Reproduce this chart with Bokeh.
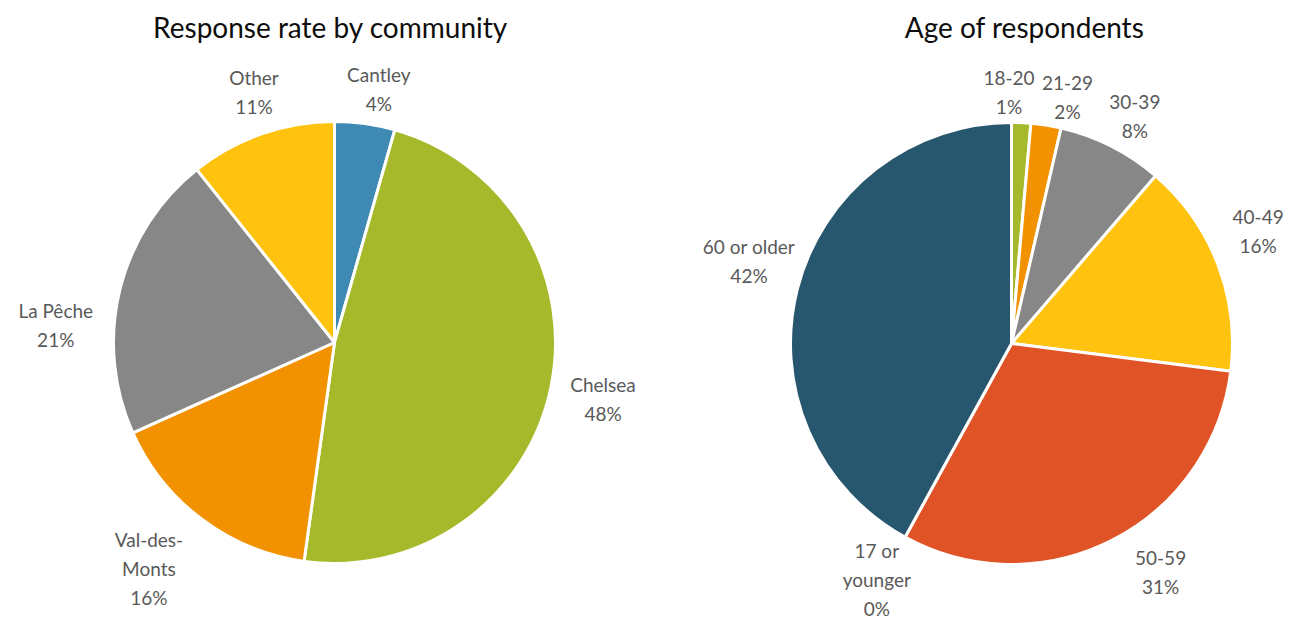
import numpy as np
from bokeh.plotting import figure
from bokeh.models import Range1d, ColumnDataSource
from bokeh.embed import file_html
from bokeh.resources import INLINE
from bokeh.core.properties import value

# ---- data ----
community_title = "Response rate by community"
community_labels = ["Cantley", "Chelsea", "Val-des-\nMonts", "La Pêche", "Other"]
community_values = [4.4, 47.8, 16.1, 21.0, 10.7]
community_colors = ["#3F8AB5", "#A6B92B", "#F39200", "#878787", "#FFC20E"]

age_title = "Age of respondents"
age_labels = ["18-20", "21-29", "30-39", "40-49", "50-59", "17 or\nyounger", "60 or older"]
age_values = [1.4, 2.2, 7.7, 15.7, 31.0, 0.0, 42.0]
age_colors = ["#A6B92B", "#F39200", "#878787", "#FFC20E", "#E05326", "#27566F", "#27566F"]

# ---- layout (label nudges in screen px: right, down) ----
community_nudges = [(8, 7), (5, 1), (-13, -4), (-12, 47), (7, 0)]
age_nudges = [(-1, 8), (2, 13), (3, 11), (1, -18), (28, -9), (2, -13), (17, -11)]

W, H = 1289, 619
FONT = "Lato"
LABEL_FS = 19
LINE_H = 28
LABEL_COLOR = "#595959"

p = figure(width=W, height=H, output_backend="svg", toolbar_location=None,
           x_range=Range1d(0, W), y_range=Range1d(0, H),
           min_border=0)
p.axis.visible = False
p.grid.visible = False
p.outline_line_color = None
p.background_fill_color = "white"
p.border_fill_color = "white"


def draw_pie(cx, cy, R, labels, values, colors, nudges, title, title_x):
    vals = np.array(values, dtype=float)
    frac = vals / vals.sum()
    cum_end = np.cumsum(frac)
    cum_start = cum_end - frac
    start = np.pi / 2 - cum_end * 2 * np.pi
    end = np.pi / 2 - cum_start * 2 * np.pi
    keep = frac > 0
    src = ColumnDataSource(dict(start=start[keep], end=end[keep],
                                color=[c for c, k in zip(colors, keep) if k]))
    p.wedge(x=cx, y=cy, radius=R, start_angle="start", end_angle="end",
            fill_color="color", line_color="white", line_width=3,
            direction="anticlock", source=src)

    # labels: placed outside end
    texts, xs, ys, ws, hs = [], [], [], [], []
    for lab, f, cs in zip(labels, frac, cum_start):
        pct = f"{round(f * 100):.0f}%"
        txt = lab + "\n" + pct
        lines = txt.split("\n")
        w = max(len(l) for l in lines) * 0.5 * LABEL_FS
        h = len(lines) * LINE_H
        b = (cs + f / 2) * 2 * np.pi
        ux, uy = np.sin(b), np.cos(b)
        d = R + 10 + abs(ux) * w / 2 + abs(uy) * h / 2
        texts.append(txt)
        xs.append(cx + ux * d)
        ys.append(cy + uy * d)
        ws.append(w)
        hs.append(h)
    xs = np.array(xs)
    ys = np.array(ys)
    for _ in range(60):
        moved = False
        for i in range(len(xs)):
            for j in range(i + 1, len(xs)):
                ox = (ws[i] + ws[j]) / 2 + 8 - abs(xs[i] - xs[j])
                oy = (hs[i] + hs[j]) / 2 - abs(ys[i] - ys[j])
                if ox > 0 and oy > 0:
                    s = 1 if xs[j] >= xs[i] else -1
                    xs[i] -= s * ox / 2
                    xs[j] += s * ox / 2
                    moved = True
        if not moved:
            break
    xs = xs + np.array([n[0] for n in nudges])
    ys = ys - np.array([n[1] for n in nudges])
    p.text(x=xs, y=ys, text=texts, text_font=value(FONT),
           text_font_size=f"{LABEL_FS}px", text_color=LABEL_COLOR,
           text_align="center", text_baseline="middle",
           text_line_height=1.26)
    p.text(x=[title_x], y=[H - 26], text=[title], text_font=value(FONT),
           text_font_size="28px", text_color="#0D0D0D",
           text_align="center", text_baseline="middle")


draw_pie(334, H - 342, 221, community_labels, community_values,
         community_colors, community_nudges, community_title, 330)
draw_pie(1011, H - 343, 221, age_labels, age_values,
         age_colors, age_nudges, age_title, 1024)

open("out.html", "w").write(file_html(p, INLINE))
